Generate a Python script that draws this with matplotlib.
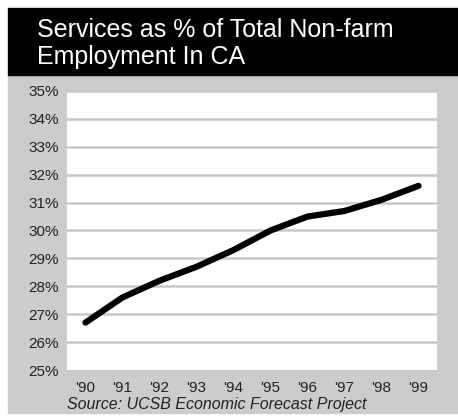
import matplotlib.pyplot as plt
from matplotlib.patches import Rectangle
from matplotlib import font_manager

years = ["'90", "'91", "'92", "'93", "'94", "'95", "'96", "'97", "'98", "'99"]
share = [26.7, 27.6, 28.2, 28.7, 29.3, 30.0, 30.5, 30.7, 31.1, 31.6]
yticks = [25, 26, 27, 28, 29, 30, 31, 32, 33, 34, 35]

names = {f.name for f in font_manager.fontManager.ttflist}
narrow = 'Liberation Sans Narrow' if 'Liberation Sans Narrow' in names else 'Liberation Sans'
plt.rcParams['font.family'] = [narrow, 'DejaVu Sans']

W, H = 458, 420
fig = plt.figure(figsize=(W / 100, H / 100), dpi=100)
fig.patch.set_facecolor('white')

# grey panel and black title band (figure pixel coords -> fractions)
fig.patches.append(Rectangle((8 / W, 1 - 413 / H), 1 - 8 / W, (413 - 75) / H,
                             transform=fig.transFigure, color='#cccccc', zorder=-2))
fig.patches.append(Rectangle((8 / W, 1 - 75 / H), 1 - 8 / W, (75 - 8) / H,
                             transform=fig.transFigure, color='black', zorder=-2))
fig.text(37 / W, 1 - 37 / H, 'Services as % of Total Non-farm', color='white',
         fontsize=18, va='baseline', ha='left')
fig.text(37 / W, 1 - 64 / H, 'Employment In CA', color='white',
         fontsize=18, va='baseline', ha='left')

ax = fig.add_axes([67 / W, 1 - 370 / H, (437 - 67) / W, (370 - 91) / H])
ax.set_facecolor('white')
x = list(range(len(years)))
ax.plot(x, share, color='black', lw=4.5, solid_capstyle='round', solid_joinstyle='round', zorder=3)
ax.set_xlim(-0.5, len(years) - 0.5)
ax.set_ylim(25, 35)
ax.set_yticks(yticks)
ax.set_yticklabels([f'{v}%' for v in yticks], fontsize=11, color='#222222')
ax.set_xticks(x)
ax.set_xticklabels(years, fontsize=11, color='#222222')
ax.tick_params(length=0, pad=6)
ax.tick_params(axis='x', pad=8)
for v in yticks[1:]:
    ax.axhline(v, color='#c8c8c8', lw=1.8, zorder=1)
for s in ax.spines.values():
    s.set_visible(False)

fig.text(67 / W, 1 - 405 / H, 'Source: UCSB Economic Forecast Project', fontsize=11.5,
         style='italic', color='#222222', va='center', ha='left')

fig.savefig('out.png', dpi=100, facecolor='white')
